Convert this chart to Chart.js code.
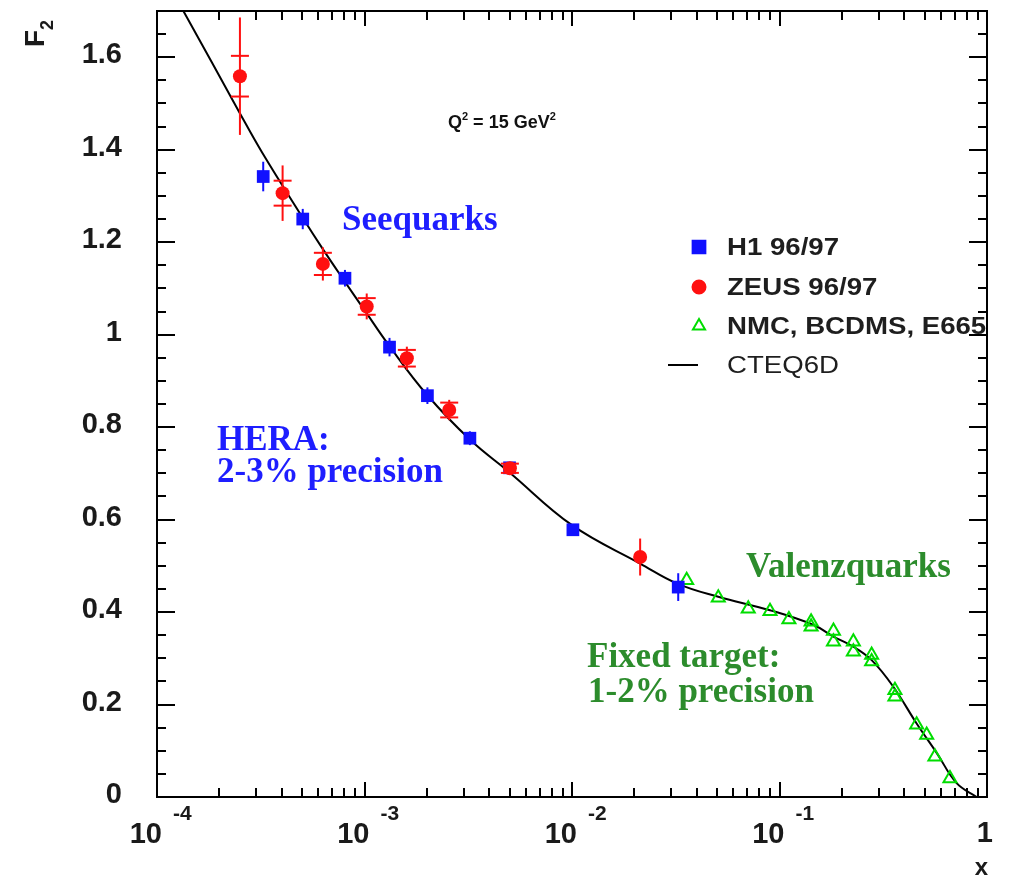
<!DOCTYPE html>
<html>
<head>
<meta charset="utf-8">
<title>F2 at Q2 = 15 GeV2</title>
<script src="https://cdn.jsdelivr.net/npm/chart.js@4.4.1/dist/chart.umd.min.js"></script>
<style>
  html, body { margin: 0; padding: 0; background: #fff; }
  #wrap { width: 1009px; height: 878px; }
</style>
</head>
<body>
<div id="wrap"><canvas id="f2Chart" width="1009" height="878"></canvas></div>
<script>
// ---- H1 96/97 ----
const h1X = [3.25e-4, 5.04e-4, 8.05e-4, 1.32e-3, 2.01e-3, 3.22e-3, 5.0e-3, 1.01e-2, 3.25e-2];
const h1Y = [1.342, 1.250, 1.122, 0.973, 0.868, 0.776, 0.712, 0.578, 0.454];
const h1Err = [0.032, 0.022, 0.018, 0.020, 0.018, 0.015, 0.012, 0.012, 0.030];

// ---- ZEUS 96/97 (stat = inner bar, tot = full bar) ----
const zeusX = [2.51e-4, 4.03e-4, 6.3e-4, 1.025e-3, 1.6e-3, 2.56e-3, 5.02e-3, 2.13e-2];
const zeusY = [1.559, 1.306, 1.153, 1.061, 0.949, 0.837, 0.711, 0.519];
const zeusStat = [0.044, 0.027, 0.024, 0.018, 0.018, 0.016, 0.010, 0.0];
const zeusTot = [0.127, 0.060, 0.036, 0.028, 0.025, 0.022, 0.014, 0.040];

// ---- NMC, BCDMS, E665 ----
const fixedX = [3.57e-2, 5.07e-2, 7.07e-2, 9.0e-2, 0.111, 0.142, 0.142, 0.182, 0.182, 0.227,
                0.227, 0.278, 0.278, 0.36, 0.36, 0.458, 0.512, 0.561, 0.663];
const fixedY = [0.469, 0.431, 0.407, 0.402, 0.384, 0.379, 0.368, 0.359, 0.336, 0.336,
                0.314, 0.307, 0.293, 0.231, 0.217, 0.156, 0.134, 0.087, 0.040];

// ---- CTEQ6D ----
const cteqX = [1.1e-4, 1.34e-4, 2.5e-4, 3.2e-4, 5.0e-4, 6.3e-4, 8.0e-4, 1.0e-3, 1.32e-3, 2.0e-3,
               3.24e-3, 5.0e-3, 1.0e-2, 2.13e-2, 3.24e-2, 5.07e-2, 9.0e-2, 0.146, 0.182, 0.227,
               0.278, 0.353, 0.458, 0.573, 0.714, 0.892];
const cteqY = [1.765, 1.700, 1.480, 1.395, 1.255, 1.185, 1.116, 1.053, 0.975, 0.870,
               0.772, 0.702, 0.588, 0.505, 0.461, 0.433, 0.404, 0.372, 0.347, 0.325,
               0.296, 0.239, 0.159, 0.095, 0.030, 0.0];

// ---- axis labels ----
const yTickLabels = ["0", "0.2", "0.4", "0.6", "0.8", "1", "1.2", "1.4", "1.6"];
const xDecades = [-4, -3, -2, -1, 0];

const toPoints = (xs, ys) => xs.map((v, i) => ({ x: v, y: ys[i] }));

const SANS = '"Liberation Sans", Arial, sans-serif';
const SERIF = '"Liberation Serif", "Times New Roman", serif';

// vertical error bars, drawn just before the markers of their dataset
const errorBars = {
  id: "errorBars",
  beforeDatasetDraw(chart, args) {
    const ds = chart.data.datasets[args.index];
    if (!ds.errTot) return;
    const { ctx, scales: { x, y } } = chart;
    ctx.save();
    ctx.strokeStyle = ds.borderColor;
    ctx.lineWidth = 2;
    ds.data.forEach((p, i) => {
      const px = x.getPixelForValue(p.x);
      ctx.beginPath();
      ctx.moveTo(px, y.getPixelForValue(p.y + ds.errTot[i]));
      ctx.lineTo(px, y.getPixelForValue(p.y - ds.errTot[i]));
      ctx.stroke();
      if (ds.errStat && ds.errStat[i] > 0) {
        [p.y + ds.errStat[i], p.y - ds.errStat[i]].forEach((v) => {
          const py = y.getPixelForValue(v);
          ctx.beginPath();
          ctx.moveTo(px - 9, py);
          ctx.lineTo(px + 9, py);
          ctx.stroke();
        });
      }
    });
    ctx.restore();
  },
};

// text with raised / lowered pieces: [text, font, dy]
function drawRun(ctx, parts, x, y) {
  let cx = x;
  parts.forEach(([t, font, dy]) => {
    ctx.font = font;
    ctx.fillText(t, cx, y + (dy || 0));
    cx += ctx.measureText(t).width;
  });
}

// frame with ROOT-style ticks on all four sides, plus tick labels
const frameAxes = {
  id: "frameAxes",
  afterDatasetsDraw(chart) {
    const { ctx, chartArea: a, scales: { x, y } } = chart;
    ctx.save();
    ctx.strokeStyle = "#000";
    ctx.lineWidth = 2;
    ctx.strokeRect(a.left, a.top, a.right - a.left, a.bottom - a.top);

    ctx.beginPath();
    for (let i = 0; i <= 34; i++) {
      const py = Math.round(y.getPixelForValue(i * 0.05));
      const len = i % 4 === 0 ? 18 : 9;
      ctx.moveTo(a.left, py); ctx.lineTo(a.left + len, py);
      ctx.moveTo(a.right, py); ctx.lineTo(a.right - len, py);
    }
    xDecades.forEach((d) => {
      if (d === 0) return;
      for (let m = 1; m <= 9; m++) {
        const px = Math.round(x.getPixelForValue(m * Math.pow(10, d)));
        const len = m === 1 ? 15 : 9;
        ctx.moveTo(px, a.bottom); ctx.lineTo(px, a.bottom - len);
        ctx.moveTo(px, a.top); ctx.lineTo(px, a.top + len);
      }
    });
    ctx.stroke();

    ctx.fillStyle = "#1a1a1a";
    ctx.font = "bold 29px " + SANS;
    ctx.textAlign = "right";
    ctx.textBaseline = "middle";
    yTickLabels.forEach((t) => {
      ctx.fillText(t, a.left - 35, y.getPixelForValue(parseFloat(t)) - 2);
    });

    ctx.textBaseline = "alphabetic";
    xDecades.forEach((d) => {
      const px = x.getPixelForValue(Math.pow(10, d));
      if (d === 0) {
        ctx.textAlign = "right";
        ctx.font = "bold 29px " + SANS;
        ctx.fillText("1", px + 6, 842);
        return;
      }
      ctx.textAlign = "right";
      ctx.font = "bold 29px " + SANS;
      ctx.fillText("10", px + 5, 843);
      ctx.textAlign = "left";
      ctx.font = "bold 21px " + SANS;
      ctx.fillText(String(d), px + 16, 820);
    });

    // axis titles
    ctx.textAlign = "right";
    ctx.font = "bold 24px " + SANS;
    ctx.fillText("x", 988, 875);

    ctx.save();
    ctx.translate(44, 47);
    ctx.rotate(-Math.PI / 2);
    ctx.textAlign = "left";
    drawRun(ctx, [["F", "bold 28px " + SANS, 0], ["2", "bold 18px " + SANS, 9]], 0, 0);
    ctx.restore();
    ctx.restore();
  },
};

// annotations and legend
const notes = {
  id: "notes",
  afterDraw(chart) {
    const { ctx } = chart;
    ctx.save();
    ctx.textAlign = "left";
    ctx.textBaseline = "alphabetic";

    ctx.fillStyle = "#111";
    drawRun(ctx, [
      ["Q", "bold 18px " + SANS, 0],
      ["2", "bold 11px " + SANS, -8],
      [" = 15 GeV", "bold 18px " + SANS, 0],
      ["2", "bold 11px " + SANS, -8],
    ], 448, 128);

    ctx.font = "bold 35px " + SERIF;
    ctx.fillStyle = "#1e1eff";
    ctx.fillText("Seequarks", 342, 230);
    ctx.fillText("HERA:", 217, 450);
    ctx.fillText("2-3% precision", 217, 482);

    ctx.fillStyle = "#2c8c2c";
    ctx.fillText("Valenzquarks", 746, 577);
    ctx.fillText("Fixed target:", 587, 667);
    ctx.fillText("1-2% precision", 588, 702);

    // legend
    const draw = Chart.helpers && Chart.helpers.drawPoint;
    const rows = [
      { label: "H1 96/97", y: 247, style: "rect", r: 9, fill: "#1010ff", stroke: "#1010ff", bold: true },
      { label: "ZEUS 96/97", y: 287, style: "circle", r: 6.5, fill: "#ff1010", stroke: "#ff1010", bold: true },
      { label: "NMC, BCDMS, E665", y: 326, style: "triangle", r: 7, fill: "rgba(0,0,0,0)", stroke: "#00dd00", bold: true },
      { label: "CTEQ6D", y: 365, style: "line", bold: false },
    ];
    rows.forEach((row) => {
      if (row.style === "line") {
        ctx.strokeStyle = "#000";
        ctx.lineWidth = 2;
        ctx.beginPath();
        ctx.moveTo(668, row.y);
        ctx.lineTo(698, row.y);
        ctx.stroke();
      } else if (draw) {
        ctx.fillStyle = row.fill;
        ctx.strokeStyle = row.stroke;
        ctx.lineWidth = 2;
        draw(ctx, { pointStyle: row.style, radius: row.r, rotation: 0, borderWidth: 2 }, 699, row.y);
      }
      ctx.save();
      ctx.translate(727, row.y + 8);
      ctx.scale(1.15, 1);
      ctx.fillStyle = "#1e1e1e";
      ctx.font = (row.bold ? "bold " : "") + "24px " + SANS;
      ctx.fillText(row.label, 0, 0);
      ctx.restore();
    });
    ctx.restore();
  },
};

const chart = new Chart(document.getElementById("f2Chart"), {
  type: "scatter",
  data: {
    datasets: [
      {
        label: "ZEUS 96/97",
        data: toPoints(zeusX, zeusY),
        pointStyle: "circle",
        pointRadius: 7,
        backgroundColor: "#ff1010",
        borderColor: "#ff1010",
        borderWidth: 0,
        errStat: zeusStat,
        errTot: zeusTot,
        order: 0,
      },
      {
        label: "H1 96/97",
        data: toPoints(h1X, h1Y),
        pointStyle: "rect",
        pointRadius: 9,
        backgroundColor: "#1010ff",
        borderColor: "#1010ff",
        borderWidth: 0,
        errTot: h1Err,
        order: 1,
      },
      {
        label: "NMC, BCDMS, E665",
        data: toPoints(fixedX, fixedY),
        pointStyle: "triangle",
        pointRadius: 7.5,
        backgroundColor: "rgba(0,0,0,0)",
        borderColor: "#00dd00",
        borderWidth: 2,
        order: 2,
      },
      {
        label: "CTEQ6D",
        data: toPoints(cteqX, cteqY),
        showLine: true,
        pointRadius: 0,
        borderColor: "#000",
        borderWidth: 2,
        tension: 0.4,
        order: 3,
      },
    ],
  },
  options: {
    responsive: false,
    animation: false,
    devicePixelRatio: 1,
    layout: { padding: { left: 157, top: 11, right: 22, bottom: 81 } },
    scales: {
      x: { type: "logarithmic", min: 1e-4, max: 1, display: false },
      y: { type: "linear", min: 0, max: 1.7, display: false },
    },
    plugins: {
      legend: { display: false },
      tooltip: { enabled: false },
    },
  },
  plugins: [errorBars, frameAxes, notes],
});
</script>
</body>
</html>
